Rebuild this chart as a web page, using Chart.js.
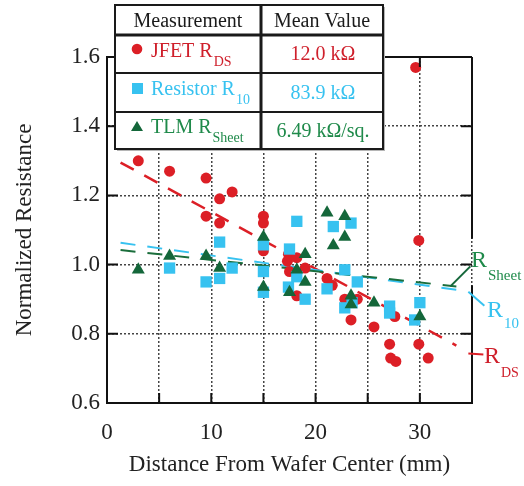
<!DOCTYPE html>
<html>
<head>
<meta charset="utf-8">
<script src="https://cdn.jsdelivr.net/npm/chart.js@4/dist/chart.umd.min.js"></script>
<style>
  html, body { margin: 0; padding: 0; background: #fff; }
</style>
</head>
<body>
<canvas id="resChart" width="524" height="486"></canvas>
<script>
// values
const jfetX = [3.0, 6.0, 9.5, 10.8, 12.0, 9.5, 10.8, 15.0, 15.0, 15.0, 17.4, 17.3, 18.2, 17.5, 19.0, 18.2, 21.1, 21.6, 22.8, 24.0, 23.4, 25.6, 27.6, 27.1, 27.2, 27.7, 29.9, 30.8, 29.9, 29.6];
const jfetY = [1.30, 1.27, 1.25, 1.19, 1.21, 1.14, 1.12, 1.14, 1.12, 1.04, 1.03, 1.01, 1.02, 0.98, 0.99, 0.91, 0.96, 0.94, 0.90, 0.90, 0.84, 0.82, 0.85, 0.77, 0.73, 0.72, 0.77, 0.73, 1.07, 1.57];

const resX = [6.0, 9.5, 10.8, 10.8, 12.0, 15.0, 15.0, 15.0, 17.5, 18.2, 17.4, 18.2, 19.0, 21.7, 23.4, 22.8, 24.0, 21.1, 22.8, 23.5, 27.1, 27.1, 30.0, 29.5];
const resY = [0.99, 0.95, 1.065, 0.96, 0.99, 1.057, 0.98, 0.92, 1.045, 1.125, 0.935, 0.965, 0.90, 1.11, 1.12, 0.985, 0.95, 0.93, 0.875, 0.89, 0.88, 0.86, 0.89, 0.84];

const tlmX = [3.0, 6.0, 9.5, 10.8, 15.0, 15.0, 17.5, 18.2, 19.0, 19.0, 21.1, 22.8, 21.7, 22.8, 23.4, 23.4, 25.6, 30.0];
const tlmY = [0.985, 1.025, 1.025, 0.99, 1.08, 0.935, 0.92, 0.985, 1.03, 0.95, 1.15, 1.14, 1.055, 1.08, 0.91, 0.885, 0.89, 0.85];

// fitted trend lines (end points)
const fitX = [1.3, 33.5];
const rdsFitY = [1.295, 0.766];
const r10FitY = [1.063, 0.927];
const sheetFitY = [1.042, 0.937];

const xTickValues = [0, 5, 10, 15, 20, 25, 30, 35];
const yTickValues = [0.6, 0.8, 1.0, 1.2, 1.4, 1.6];

const tableHead = ['Measurement', 'Mean Value'];
const tableNames = ['JFET R', 'Resistor R', 'TLM R'];
const tableSubs = ['DS', '10', 'Sheet'];
const tableValues = ['12.0 kΩ', '83.9 kΩ', '6.49 kΩ/sq.'];

const RED = '#dc1f26';
const CYAN = '#37c2f0';
const GREEN = '#14673a';
const RED_TXT = '#cf1f2b';
const GREEN_TXT = '#1f8a4a';
const FONT = '"Liberation Serif", "Times New Roman", serif';

const pts = (xs, ys) => xs.map((x, i) => ({ x: x, y: ys[i] }));

function subText(ctx, x, y, main, sub, color, size, subSize, dy) {
    ctx.fillStyle = color;
    ctx.font = size + 'px ' + FONT;
    ctx.textAlign = 'left';
    ctx.textBaseline = 'alphabetic';
    ctx.fillText(main, x, y);
    const w = ctx.measureText(main).width;
    ctx.font = subSize + 'px ' + FONT;
    ctx.fillText(sub, x + w + 1, y + dy);
}

// closed frame + inward ticks
const framePlugin = {
    id: 'frame',
    afterDraw(chart) {
        const ctx = chart.ctx;
        const xs = chart.scales.x, ys = chart.scales.y;
        const { left, right, top, bottom } = chart.chartArea;
        ctx.save();
        ctx.strokeStyle = '#111';
        ctx.lineWidth = 2;
        ctx.beginPath();
        ctx.moveTo(left - 1, top);
        ctx.lineTo(right, top);
        ctx.moveTo(right, top);
        ctx.lineTo(right, ys.getPixelForValue(1.075));
        ctx.moveTo(right, ys.getPixelForValue(0.94));
        ctx.lineTo(right, bottom + 1);
        xTickValues.slice(1, -1).forEach(v => {
            const px = xs.getPixelForValue(v);
            ctx.moveTo(px, bottom); ctx.lineTo(px, bottom - 10);
            ctx.moveTo(px, top); ctx.lineTo(px, top + 10);
        });
        yTickValues.slice(1, -1).forEach(v => {
            const py = ys.getPixelForValue(v);
            ctx.moveTo(left, py); ctx.lineTo(left + 11, py);
            ctx.moveTo(right, py); ctx.lineTo(right - 11, py);
        });
        ctx.stroke();

        // labels for the trend lines
        const ex = xs.getPixelForValue(fitX[1]);
        ctx.lineWidth = 2;
        ctx.strokeStyle = GREEN;
        let gy = ys.getPixelForValue(sheetFitY[1]);
        ctx.beginPath(); ctx.moveTo(ex - 6, gy); ctx.lineTo(ex + 14, gy - 20); ctx.stroke();
        subText(ctx, 471, 267, 'R', 'Sheet', GREEN_TXT, 24, 15, 13);

        ctx.strokeStyle = CYAN;
        let cy = ys.getPixelForValue(r10FitY[1]);
        ctx.beginPath(); ctx.moveTo(ex + 12, cy + 2); ctx.lineTo(ex + 28, cy + 16); ctx.stroke();
        subText(ctx, 487, 317, 'R', '10', CYAN, 24, 15, 11);

        ctx.strokeStyle = RED;
        let ry = ys.getPixelForValue(rdsFitY[1]);
        ctx.beginPath(); ctx.moveTo(ex + 12, ry + 8); ctx.lineTo(ex + 27, ry + 9); ctx.stroke();
        subText(ctx, 484, 363, 'R', 'DS', RED_TXT, 24, 14, 14);
        ctx.restore();
    }
};

// measurement table in the upper left
const tablePlugin = {
    id: 'table',
    afterDraw(chart) {
        const ctx = chart.ctx;
        const cx = [115, 261, 383];
        const ry = [5, 35, 73, 112, 149];
        ctx.save();
        ctx.fillStyle = '#b5b5b5';
        ctx.fillRect(cx[0] + 2, ry[0] + 2, cx[2] - cx[0], ry[4] - ry[0]);
        ctx.fillStyle = '#fff';
        ctx.fillRect(cx[0], ry[0], cx[2] - cx[0], ry[4] - ry[0]);
        ctx.strokeStyle = '#1a1a1a';
        ctx.lineWidth = 2;
        ctx.strokeRect(cx[0], ry[0], cx[2] - cx[0], ry[4] - ry[0]);
        ctx.beginPath();
        ctx.moveTo(cx[0], ry[2]); ctx.lineTo(cx[2], ry[2]);
        ctx.moveTo(cx[0], ry[3]); ctx.lineTo(cx[2], ry[3]);
        ctx.stroke();
        ctx.lineWidth = 3;
        ctx.beginPath();
        ctx.moveTo(cx[0], ry[1]); ctx.lineTo(cx[2], ry[1]);
        ctx.moveTo(cx[1], ry[0]); ctx.lineTo(cx[1], ry[4]);
        ctx.stroke();

        ctx.font = '20px ' + FONT;
        ctx.fillStyle = '#1a1a1a';
        ctx.textAlign = 'center';
        ctx.fillText(tableHead[0], (cx[0] + cx[1]) / 2, 27);
        ctx.fillText(tableHead[1], (cx[1] + cx[2]) / 2, 27);

        const colors = [RED_TXT, CYAN, GREEN_TXT];
        const baseY = [57, 95, 133];
        const valY = [60, 99, 137];
        for (let i = 0; i < 3; i++) {
            subText(ctx, 151, baseY[i], tableNames[i], tableSubs[i], colors[i], 20, 14, 9);
            ctx.font = '20px ' + FONT;
            ctx.textAlign = 'center';
            ctx.fillStyle = colors[i];
            ctx.fillText(tableValues[i], (cx[1] + cx[2]) / 2 + 1, valY[i]);
        }
        // markers
        ctx.fillStyle = RED;
        ctx.beginPath(); ctx.arc(137, 49, 5.3, 0, Math.PI * 2); ctx.fill();
        ctx.fillStyle = CYAN;
        ctx.fillRect(132, 83, 11, 11);
        ctx.fillStyle = GREEN;
        ctx.beginPath(); ctx.moveTo(137, 121); ctx.lineTo(143, 131); ctx.lineTo(131, 131); ctx.closePath(); ctx.fill();
        ctx.restore();
    }
};

const fitLine = (ys, color, w) => ({
    data: pts(fitX, ys),
    showLine: true,
    borderColor: color,
    borderWidth: w,
    borderDash: [15, 12],
    pointRadius: 0,
    fill: false
});

const ctx = document.getElementById('resChart').getContext('2d');
new Chart(ctx, {
    type: 'scatter',
    data: {
        datasets: [
            { label: 'TLM RSheet', data: pts(tlmX, tlmY), pointStyle: 'triangle', pointRadius: 7.5, backgroundColor: GREEN, pointBorderWidth: 0 },
            { label: 'Resistor R10', data: pts(resX, resY), pointStyle: 'rect', pointRadius: 8, backgroundColor: CYAN, pointBorderWidth: 0 },
            { label: 'JFET RDS', data: pts(jfetX, jfetY), pointStyle: 'circle', pointRadius: 5.5, backgroundColor: RED, pointBorderWidth: 0 },
            fitLine(sheetFitY, '#1b6e3c', 2),
            fitLine(r10FitY, CYAN, 2),
            fitLine(rdsFitY, RED, 2.5)
        ]
    },
    options: {
        responsive: false,
        animation: false,
        layout: { padding: { top: 57, right: 52, left: 0, bottom: 0 } },
        plugins: { legend: { display: false }, tooltip: { enabled: false } },
        scales: {
            x: {
                type: 'linear', min: 0, max: 35,
                afterFit: s => { s.height = 83; },
                afterBuildTicks: s => { s.ticks = xTickValues.map(v => ({ value: v })); },
                ticks: {
                    callback: v => (v % 10 === 0 ? v : ''),
                    autoSkip: false, maxRotation: 0, padding: 16,
                    color: '#222', font: { family: FONT, size: 23 }
                },
                grid: { color: '#444', lineWidth: 1.5, drawTicks: false },
                border: { color: '#111', width: 2, dash: [2, 2] },
                title: { display: true, text: 'Distance From Wafer Center (mm)', color: '#222', font: { family: FONT, size: 23 }, padding: { bottom: 7 } }
            },
            y: {
                type: 'linear', min: 0.6, max: 1.6,
                afterFit: s => { s.width = 107; },
                afterBuildTicks: s => { s.ticks = yTickValues.map(v => ({ value: v })); },
                ticks: {
                    callback: v => v.toFixed(1),
                    padding: 7,
                    color: '#222', font: { family: FONT, size: 23 }
                },
                grid: { color: '#444', lineWidth: 1.5, drawTicks: false },
                border: { color: '#111', width: 2, dash: [2, 2] },
                title: { display: true, text: 'Normalized Resistance', color: '#222', font: { family: FONT, size: 23 }, padding: { top: 11 } }
            }
        }
    },
    plugins: [framePlugin, tablePlugin]
});
</script>
</body>
</html>
